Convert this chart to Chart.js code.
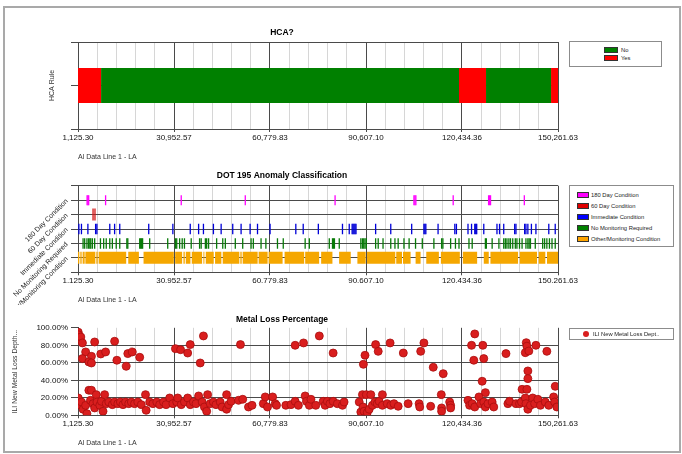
<!DOCTYPE html>
<html>
<head>
<meta charset="utf-8">
<script src="https://cdn.jsdelivr.net/npm/chart.js@4.4.1/dist/chart.umd.min.js"></script>
<style>
  body { margin: 0; width: 682px; height: 454px; overflow: hidden; background: #fff; font-family: "Liberation Sans", Arial, sans-serif; }
  #frame { position: absolute; left: 3px; top: 6px; width: 674px; height: 443px; border: 2px solid #a9a9a9; }
  .panel { position: absolute; left: 6px; width: 674px; }
  .legend { position: absolute; left: 569px; border: 1px solid #8c8c8c; background: #fff; font-size: 5.8px; color: #222; box-sizing: border-box; }
  .legend .row { position: absolute; height: 8px; line-height: 8px; white-space: nowrap; }
  .legend .sw { position: absolute; border: 1px solid #333; box-sizing: border-box; }
  .legend .dot { position: absolute; border-radius: 50%; background: #d91e1e; }
</style>
</head>
<body>
<div id="frame"></div>
<div class="panel" style="top:14px;height:150px"><canvas id="hca"></canvas></div>
<div class="panel" style="top:164px;height:141px"><canvas id="dot"></canvas></div>
<div class="panel" style="top:305px;height:142.3px"><canvas id="loss"></canvas></div>
<div class="legend" id="legendHca" style="top:41px;width:93px;height:26px"></div>
<div class="legend" id="legendDot" style="top:185px;width:105px;height:62px"></div>
<div class="legend" id="legendLoss" style="top:328px;width:105px;height:12px"></div>
<script>
const FONT = '"Liberation Sans", Arial, sans-serif'
const MAJOR = "#4a4a4a"
const MINOR = "#d6d6d6"

// shared distance axis
const xTickValues = [1125.3, 30952.57, 60779.83, 90607.1, 120434.36, 150261.63]
const xTickLabels = ["1,125.30", "30,952.57", "60,779.83", "90,607.10", "120,434.36", "150,261.63"]
const xTickLabelsDot = ["1.125.30", "30.952.57", "60.779.83", "90.607.10", "120.434.36", "150.261.63"]
const xAxisTitle = "Al Data Line 1 - LA"
const MINOR_PER_MAJOR = 5

// HCA?
const hcaBreaks = [1125.3, 8300, 119500, 127900, 148100, 150261.63]
const hcaStatus = ["Yes", "No", "Yes", "No", "Yes"]
const hcaLegend = ["No", "Yes"]
const hcaColors = { No: "#008000", Yes: "#ff0000" }

// DOT 195 anomaly classification
const dotRows = ["180 Day Condition", "60 Day Condition", "Immediate Condition", "No Monitoring Required", "Other/Monitoring Condition"]
const dotColors = ["#ff00ff", "#d41414", "#0000d8", "#087a08", "#f5a700"]
const legendDotColors = ["#ff00ff", "#e00000", "#0000ff", "#008000", "#ffa500"]
const day180Marks = [3950, 4200, 4450, 9700, 33200, 53100, 81000, 105500, 105800, 106100, 117700, 128700, 129000, 129300, 139800]
const day60Marks = [5800, 6400]
const immediateMarks = [1400, 2200, 4200, 6600, 7000, 11000, 12500, 14100, 23100, 30600, 36000, 38600, 40100, 43200, 45600, 49200,
  51800, 54600, 56900, 60800, 68800, 71100, 75800, 83300, 85400, 86300, 86600, 86900, 87200, 87500, 93600, 98300,
  104800, 108600, 108900, 109200, 113000, 118200, 118700, 122300, 123400, 124400, 124700, 125000, 127200, 131300, 132100,
  133400, 136800, 137200, 139900, 140300, 140900, 142000, 143400, 147400, 149400]
const noMonitoringMarks = [2700, 3200, 3900, 4400, 4800, 5100, 5600, 6300, 8100, 9100, 9900, 11000, 11800, 13000, 14100, 16300,
  16600, 20300, 20600, 20900, 21200, 23400, 29000, 31400, 31800, 32700, 33500, 34200, 36300, 38900, 39400, 40700, 41100,
  41700, 44200, 46100, 46900, 50000, 52300, 54900, 55600, 58000, 59500, 63100, 64900, 71700, 73000, 79200, 80200, 80500,
  80800, 82300, 89000, 89500, 89900, 90300, 90700, 93600, 94400, 95900, 98300, 99600, 100600, 102400, 104000, 106000,
  108100, 111700, 114100, 114500, 116900, 118400, 119500, 122600, 123600, 127700, 128000, 129800, 131900, 133400, 133900,
  134400, 135000, 135500, 136200, 137000, 137500, 138300, 139100, 140300, 140900, 141300, 141700, 143200, 145500, 146100,
  146800, 147600, 148400, 149400]
const otherStart = [1125.3, 1650, 2170, 2690, 3410, 6820, 7540, 16740, 21490, 31310, 33890, 34610, 36470, 40090, 40820, 43710,
  46090, 51560, 52290, 57250, 60350, 65310, 71710, 76670, 82250, 87930, 90930, 100000, 102100, 106020, 109330, 113870,
  120690, 127200, 129270, 138360, 144250, 146840]
const otherEnd = [1445, 1960, 2480, 3200, 6510, 7230, 16100, 20050, 30900, 33480, 34300, 36060, 39680, 40400, 43300, 45670,
  51250, 51980, 56940, 60040, 64690, 71400, 76050, 80180, 85870, 90520, 99700, 101800, 104470, 107570, 113250, 119760,
  125140, 128750, 137850, 143740, 146320, 150261.63]

// Metal loss percentage
const lossLegend = "ILI New Metal Loss Dept.."
const lossAxisTitle = "ILI New Metal Loss Depth..."
const metalLossDist = [1200, 1300, 1700, 2000, 2500, 6300, 3500, 5300, 2500, 4500, 5300, 8200, 9700, 12500, 13200, 16100, 16600,
  18000, 20300, 31400, 33000, 35200, 36000, 39100, 40100, 51600, 68600, 71200, 76100, 80400, 90300, 89800, 93600, 94400,
  98100, 102200, 107600, 108600, 111500, 114600, 124400, 123400, 126900, 124100, 127200, 126700, 134100, 140400, 140600,
  143400, 140100, 141200, 146800, 140900, 140900, 139100, 140600, 149400, 114000, 127700,
  1200, 1400, 2200, 2700, 3500, 3900, 4500, 5300, 5000, 5800, 6300, 6800, 7000, 7900, 8400, 8900, 9400, 9900, 10700, 11800,
  12500, 13500, 14300, 15100, 15900, 16900, 17700, 18700, 19700, 20800, 22100, 22300, 23400, 24400, 25600, 26500, 27700,
  28500, 29600, 30600, 31800, 32100, 33200, 34200, 35200, 36000, 37000,
  38600, 37800, 39700, 40400, 41100, 41400, 42200, 43200, 44000, 45300, 45900, 47300, 47300, 47900, 48700, 51000, 52300,
  54100, 55200, 58700, 59300, 60000, 61600, 62400, 62800, 65700, 67300, 68600, 69600, 71700, 72100, 73000, 73500,
  75000, 77300, 77900, 78600, 79400, 80400, 81700, 83300, 83800, 88500, 89000, 89500, 89700, 90000, 90700, 91000, 91600,
  92100, 92600, 93400, 94100, 94700, 95700, 95700, 97200, 98300, 99300, 100600, 103700, 107100, 107300, 110700,
  114100, 114100, 116600, 116900, 116900, 122300, 122800, 123600, 124400, 125700, 126200, 127200, 127700, 128500, 129800,
  130300, 134700, 135200, 137200, 138300, 138900, 140100, 140300, 140900, 141700, 142400, 143000, 144000, 144800, 146300,
  147400, 148900, 149200, 149900]
const metalLossPct = [95, 92, 87, 89.5, 82.7, 83.8, 72.4, 67.4, 64.8, 61, 59.8, 70.1, 72.4, 84.6, 62.9, 56, 70.5,
  72.4, 66.3, 76.2, 75, 71.2, 80.8, 59.8, 90.7, 80.8, 80, 82.7, 90.7, 71.2, 68.6, 58.3, 80.8, 73.1,
  82.7, 71.2, 73.1, 82.7, 54.9, 47.6, 93, 80, 80, 62.9, 64.8, 38.9, 70.5, 83, 79,
  80, 71.6, 73.5, 73.1, 50.7, 41.9, 29.7, 29.7, 33.1, 23.6, 25.9,
  19.8, 12.2, 15.2, 6.9, 11.4, 1.9, 28.6, 28.6, 17.1, 13.3, 8.4, 23.6, 15.2, 11.4, 16, 4.6, 23.6, 13.3, 15.2, 12.2,
  15.2, 13.3, 15.2, 12.2, 15.2, 13.3, 15.2, 13.3, 15.2, 12.2, 23.6, 5.7, 15.2, 13.3, 15.2, 12.2, 15.2,
  12.2, 19.8, 13.3, 15.2, 19.8, 12.2, 15.2, 19.8, 12.2, 15.2,
  22.1, 13.3, 15.2, 9.5, 4.6, 23.6, 13.3, 15.2, 12.2, 15.2, 9.5, 23.6, 6.9, 12.2, 16, 17.1, 18.3,
  9.5, 11.4, 13.3, 21, 9.5, 21, 13.3, 11.4, 11.4, 12.2, 16, 11.4, 22.1, 16, 11.4, 18.3,
  11.4, 16, 11.4, 16, 13.3, 16, 13.3, 11.4, 15.2, 15.2, 3.8, 23.6, 9.5, 4.6, 23.6, 3, 6.9,
  23.6, 11.4, 15.2, 13.3, 16, 23.6, 11.4, 13.3, 11.4, 13.3, 10.3, 13.3, 13.3, 9.5, 10.3,
  8.4, 4.6, 15.2, 11.4, 8.4, 17.1, 11.4, 13.3, 9.5, 21, 13.3, 15.2, 9.5, 13.3, 15.2,
  9.5, 13.3, 16, 13.3, 13.3, 15.2, 19.8, 13.3, 6.9, 11.4, 19.8, 13.3, 18.3, 11.4, 15.2,
  11.4, 21, 15.2, 9.5]

// major tick every 29,827; four light lines between
const xTicks = []
xTickValues.forEach((v, i) => {
  xTicks.push(v)
  if (i < xTickValues.length - 1) {
    const step = (xTickValues[i + 1] - v) / MINOR_PER_MAJOR
    for (let k = 1; k < MINOR_PER_MAJOR; k++) xTicks.push(v + step * k)
  }
})

const isMajor = (c) => c.index % MINOR_PER_MAJOR === 0

const makeXScale = (labels, height, titlePad) => ({
  type: "linear",
  min: xTickValues[0],
  max: xTickValues[xTickValues.length - 1],
  afterBuildTicks: (scale) => {
    scale.ticks = xTicks.map((value) => ({ value }))
  },
  afterFit: (scale) => {
    scale.height = height
  },
  grid: {
    color: (c) => (isMajor(c) ? MAJOR : MINOR),
    tickColor: (c) => (isMajor(c) ? MAJOR : "rgba(0,0,0,0)"),
    tickLength: 3,
  },
  border: { color: MAJOR },
  ticks: {
    autoSkip: false,
    maxRotation: 0,
    minRotation: 0,
    padding: 1,
    color: "#111",
    font: { family: FONT, size: 8 },
    callback: (v, i) => (i % MINOR_PER_MAJOR === 0 ? labels[i / MINOR_PER_MAJOR] : ""),
  },
  title: {
    display: true,
    text: xAxisTitle,
    align: "start",
    color: "#333",
    font: { family: FONT, size: 7 },
    padding: { top: 0, bottom: titlePad },
  },
})

const makeTitle = (text, top, bottom) => ({
  display: true,
  text: text,
  color: "#000",
  font: { family: FONT, size: 8.5, weight: "bold" },
  padding: { top: top, bottom: bottom },
})

const baseOptions = (title, scales) => ({
  responsive: true,
  maintainAspectRatio: false,
  animation: false,
  events: [],
  layout: { padding: { left: 0, right: 122, top: 0, bottom: 0 } },
  plugins: { legend: { display: false }, tooltip: { enabled: false }, title: title },
  scales: scales,
})

// a run of [start, end] pieces on one row, broken by empty points
const toSegments = (starts, ends, y) => {
  const pts = []
  starts.forEach((s, i) => {
    if (i) pts.push({ x: s, y: null })
    pts.push({ x: s, y: y }, { x: ends[i], y: y })
  })
  return pts
}

const hcaChartInit = () => {
  const ctx = document.getElementById("hca").getContext("2d")
  const datasets = hcaLegend.map((status) => {
    const starts = []
    const ends = []
    hcaStatus.forEach((s, i) => {
      if (s === status) {
        starts.push(hcaBreaks[i])
        ends.push(hcaBreaks[i + 1])
      }
    })
    return {
      label: status,
      data: toSegments(starts, ends, 1),
      showLine: true,
      borderColor: hcaColors[status],
      borderWidth: 35,
      borderCapStyle: "butt",
      pointRadius: 0,
    }
  })
  return new Chart(ctx, {
    type: "scatter",
    data: { datasets: datasets },
    options: baseOptions(makeTitle("HCA?", 13.9, 3.9), {
      x: makeXScale(xTickLabels, 35, 2.5),
      y: {
        type: "linear",
        min: 0,
        max: 2,
        afterFit: (scale) => {
          scale.width = 72
        },
        grid: { color: MAJOR, tickColor: MAJOR, tickLength: 7 },
        border: { color: MAJOR },
        ticks: { stepSize: 1, callback: () => "" },
        title: {
          display: true,
          text: "HCA Rule",
          color: "#333",
          font: { family: FONT, size: 7 },
          padding: { top: 41.8, bottom: 0 },
        },
      },
    }),
  })
}

const dotChartInit = () => {
  const ctx = document.getElementById("dot").getContext("2d")
  const markSets = [day180Marks, day60Marks, immediateMarks, noMonitoringMarks]
  const markRadius = [5, 6, 5.3, 5.3]
  const datasets = markSets.map((marks, row) => ({
    label: dotRows[row],
    data: marks.map((x) => ({ x: x, y: row })),
    pointStyle: "line",
    rotation: 90,
    radius: markRadius[row],
    borderWidth: 1.3,
    borderColor: dotColors[row],
    backgroundColor: dotColors[row],
  }))
  datasets.push({
    label: dotRows[4],
    data: toSegments(otherStart, otherEnd, 4),
    showLine: true,
    borderColor: dotColors[4],
    borderWidth: 12,
    borderCapStyle: "butt",
    pointRadius: 0,
  })
  return new Chart(ctx, {
    type: "scatter",
    data: { datasets: datasets },
    options: baseOptions(makeTitle("DOT 195 Anomaly Classification", 6.6, 4.9), {
      x: makeXScale(xTickLabelsDot, 32.7, 0.3),
      y: {
        type: "linear",
        min: -1,
        max: dotRows.length,
        reverse: true,
        afterFit: (scale) => {
          scale.width = 72
        },
        grid: { color: MAJOR, tickColor: MAJOR, tickLength: 7 },
        border: { color: MAJOR },
        ticks: {
          stepSize: 1,
          autoSkip: false,
          minRotation: 45,
          maxRotation: 45,
          padding: 4,
          color: "#222",
          font: { family: FONT, size: 7 },
          callback: (v) => dotRows[v] || "",
        },
      },
    }),
  })
}

const lossChartInit = () => {
  const ctx = document.getElementById("loss").getContext("2d")
  return new Chart(ctx, {
    type: "scatter",
    data: {
      datasets: [
        {
          label: lossLegend,
          data: metalLossDist.map((x, i) => ({ x: x, y: metalLossPct[i] })),
          pointRadius: 4,
          backgroundColor: "#d91e1e",
          borderColor: "#a80e0e",
          borderWidth: 0.8,
        },
      ],
    },
    options: baseOptions(makeTitle("Metal Loss Percentage", 9.9, 2.7), {
      x: makeXScale(xTickLabels, 32, 0.5),
      y: {
        type: "linear",
        min: 0,
        max: 100,
        afterFit: (scale) => {
          scale.width = 72
        },
        grid: {
          color: (c) => (c.tick && c.tick.value === 100 ? "rgba(0,0,0,0)" : MAJOR),
          tickColor: MAJOR,
          tickLength: 7,
        },
        border: { color: MAJOR },
        ticks: {
          stepSize: 20,
          padding: 3,
          color: "#111",
          font: { family: FONT, size: 8 },
          callback: (v) => v.toFixed(2) + "%",
        },
        title: {
          display: true,
          text: lossAxisTitle,
          color: "#333",
          font: { family: FONT, size: 6.8 },
          padding: { top: 4.9, bottom: 0 },
        },
      },
    }),
  })
}

const legendInit = () => {
  const hca = document.getElementById("legendHca")
  hcaLegend.forEach((name, i) => {
    hca.insertAdjacentHTML("beforeend",
      `<div class="sw" style="left:34px;top:${5 + i * 8}px;width:14px;height:6px;background:${hcaColors[name]}"></div>` +
      `<div class="row" style="left:51px;top:${4 + i * 8}px">${name}</div>`)
  })
  const dot = document.getElementById("legendDot")
  dotRows.forEach((name, i) => {
    dot.insertAdjacentHTML("beforeend",
      `<div class="sw" style="left:7px;top:${5.5 + i * 11}px;width:12px;height:6px;background:${legendDotColors[i]}"></div>` +
      `<div class="row" style="left:21px;top:${4.5 + i * 11}px">${name}</div>`)
  })
  const loss = document.getElementById("legendLoss")
  loss.insertAdjacentHTML("beforeend",
    `<div class="dot" style="left:13px;top:2px;width:6px;height:6px"></div>` +
    `<div class="row" style="left:23px;top:1px">${lossLegend}</div>`)
}

document.addEventListener("DOMContentLoaded", () => {
  hcaChartInit()
  dotChartInit()
  lossChartInit()
  legendInit()
})
</script>
</body>
</html>
